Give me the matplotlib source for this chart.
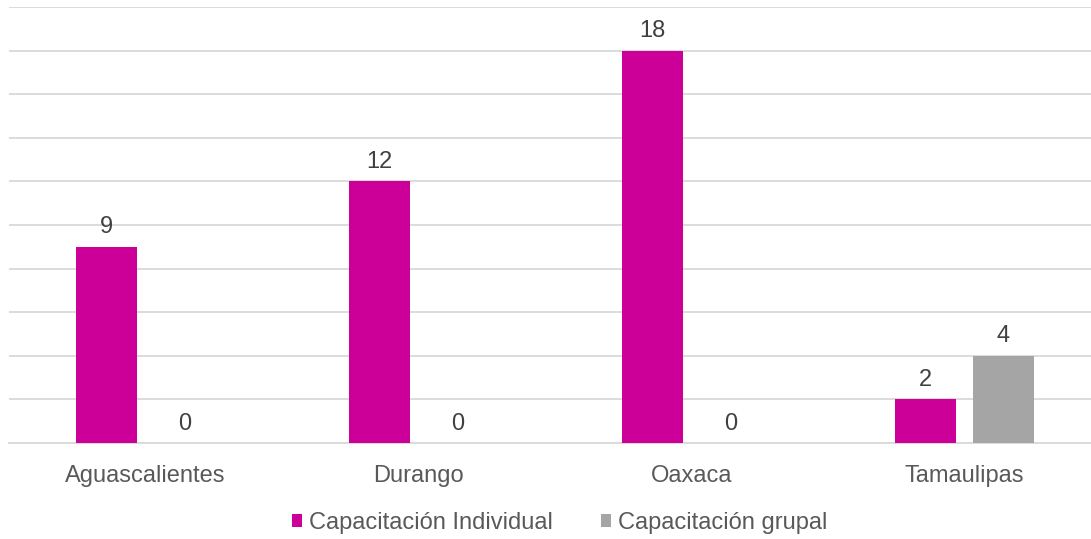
import matplotlib
matplotlib.use("Agg")
import matplotlib.pyplot as plt
import numpy as np

plt.rcParams['font.family'] = ['Liberation Sans', 'DejaVu Sans']

estados = ["Aguascalientes", "Durango", "Oaxaca", "Tamaulipas"]
individual = [9, 12, 18, 2]
grupal = [0, 0, 0, 4]
series = ["Capacitación Individual", "Capacitación grupal"]
colores = ["#CC0099", "#A5A5A5"]

fig = plt.figure(figsize=(10.91, 5.39), dpi=100)
ax = fig.add_axes([9 / 1091, 96 / 539, 1092 / 1091, 436 / 539])

x = np.arange(len(estados))
ancho = 0.223
desp = 0.143

for vals, off, col, nombre in [(individual, -desp, colores[0], series[0]),
                               (grupal, desp, colores[1], series[1])]:
    barras = ax.bar(x + off, vals, ancho, color=col, label=nombre, zorder=3)
    for b, v in zip(barras, vals):
        ax.annotate(str(v), (b.get_x() + b.get_width() / 2, v),
                    xytext=(0, 6), textcoords="offset points",
                    ha="center", va="bottom", fontsize=17, color="#404040")

ax.set_xlim(-0.5, len(estados) - 0.5)
ax.set_ylim(0, 20)
ax.set_yticks(np.arange(0, 21, 2))
ax.yaxis.grid(True, color="#D9D9D9", linewidth=1.3, zorder=0)
ax.tick_params(axis="y", left=False, labelleft=False)
ax.tick_params(axis="x", bottom=False, labelsize=17, labelcolor="#595959", pad=12)
ax.set_xticks(x)
ax.set_xticklabels(estados)
for s in ["top", "right", "left"]:
    ax.spines[s].set_visible(False)
ax.spines["bottom"].set_color("#D9D9D9")
ax.spines["bottom"].set_linewidth(1.3)

leg = fig.legend(loc="center", bbox_to_anchor=(0.513, 0.03), ncol=2, frameon=False,
                 fontsize=17, handlelength=0.45, handleheight=0.45,
                 handletextpad=0.3, columnspacing=2.0)
for t in leg.get_texts():
    t.set_color("#595959")

fig.savefig("out.png", dpi=100)
